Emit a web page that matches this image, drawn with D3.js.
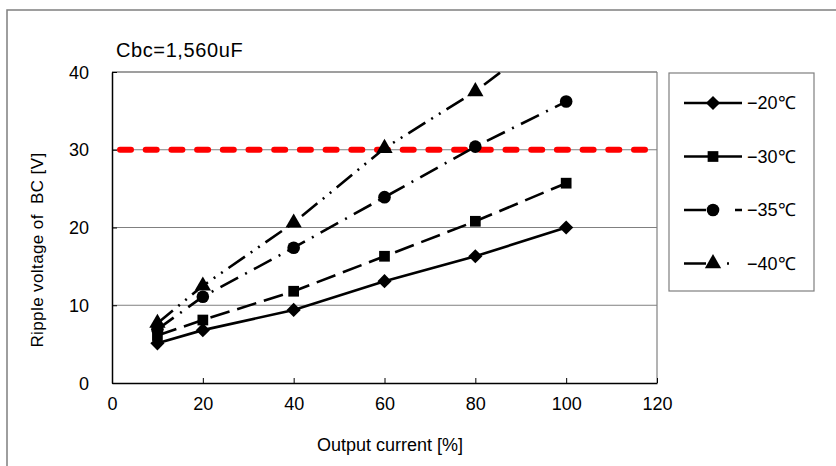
<!DOCTYPE html>
<html>
<head>
<meta charset="utf-8">
<script src="https://cdn.jsdelivr.net/npm/d3@7"></script>
<style>
  body { margin: 0; background: #fff; }
  text { font-family: "Liberation Sans", Arial, sans-serif; fill: #000; }
</style>
</head>
<body>
<svg id="chart" width="836" height="466"></svg>
<script>
// data
var xValues = [10, 20, 40, 60, 80, 100];
var v20 = [5.1, 6.8, 9.4, 13.1, 16.3, 20.0];
var v30 = [6.1, 8.1, 11.8, 16.3, 20.8, 25.7];
var v35 = [6.9, 11.1, 17.4, 23.9, 30.4, 36.2];
var v40 = [7.7, 12.5, 20.6, 30.2, 37.5, 46.4];
var seriesNames = ["\u221220\u2103", "\u221230\u2103", "\u221235\u2103", "\u221240\u2103"];
var limitValue = 30;
var xTicks = [0, 20, 40, 60, 80, 100, 120];
var yTicks = [0, 10, 20, 30, 40];

var svg = d3.select("#chart");

var x = d3.scaleLinear().domain([0, 120]).range([112, 657]);
var y = d3.scaleLinear().domain([0, 40]).range([383, 72]);

// outer chart frame
svg.append("rect")
  .attr("x", 7).attr("y", 10)
  .attr("width", 840).attr("height", 480)
  .attr("fill", "none").attr("stroke", "#7f7f7f").attr("stroke-width", 1.5);

// gridlines
svg.append("g").selectAll("line")
  .data([10, 20, 30])
  .enter().append("line")
  .attr("x1", x(0)).attr("x2", x(120))
  .attr("y1", function(d) { return y(d); })
  .attr("y2", function(d) { return y(d); })
  .attr("stroke", "#808080").attr("stroke-width", 1);

// plot border top / right
svg.append("line").attr("x1", x(0)).attr("x2", x(120)).attr("y1", y(40)).attr("y2", y(40))
  .attr("stroke", "#404040").attr("stroke-width", 1.2);
svg.append("line").attr("x1", x(120)).attr("x2", x(120)).attr("y1", y(40)).attr("y2", y(0))
  .attr("stroke", "#808080").attr("stroke-width", 1.2);

// axes
var xAxis = d3.axisBottom(x).tickValues(xTicks).tickSizeInner(-5).tickSizeOuter(0).tickPadding(16);
var yAxis = d3.axisLeft(y).tickValues(yTicks).tickSizeInner(-5).tickSizeOuter(0).tickPadding(23);

var gx = svg.append("g").attr("transform", "translate(0," + y(0) + ")").call(xAxis);
var gy = svg.append("g").attr("transform", "translate(" + x(0) + ",0)").call(yAxis);
[gx, gy].forEach(function(g) {
  g.select(".domain").attr("stroke", "#000").attr("stroke-width", 1.5);
  g.selectAll(".tick line").attr("stroke", "#000");
  g.selectAll(".tick text").attr("font-size", 18).attr("font-family", "'Noto Sans CJK JP', sans-serif");
});
gy.selectAll(".tick text").attr("dy", "0.34em");
gx.selectAll(".tick text").attr("dy", "0.6em");

svg.append("clipPath").attr("id", "plotClip")
  .append("rect").attr("x", x(0)).attr("y", y(40))
  .attr("width", x(120) - x(0)).attr("height", y(0) - y(40));

// red limit line
svg.append("line")
  .attr("x1", x(0) + 8).attr("x2", x(120))
  .attr("y1", y(limitValue)).attr("y2", y(limitValue))
  .attr("stroke", "#ff0000").attr("stroke-width", 6)
  .attr("stroke-linecap", "round")
  .attr("stroke-dasharray", "11,14.7");

var dashes = [null, "20,8", "20,8,2,8", "20,7,2,7,2,7"];
var legendDashes = [null, null, "22,29,7", "22,21,2,40"];
var symbols = [
  d3.symbol().type(d3.symbolSquare).size(100),
  d3.symbol().type(d3.symbolSquare).size(115),
  d3.symbol().type(d3.symbolCircle).size(125),
  d3.symbol().type(d3.symbolTriangle).size(115)
];
var rotate = [45, 0, 0, 0];
var allSeries = [v20, v30, v35, v40];

var line = d3.line()
  .x(function(d) { return x(d[0]); })
  .y(function(d) { return y(d[1]); });

var plot = svg.append("g").attr("clip-path", "url(#plotClip)");

allSeries.forEach(function(vals, i) {
  var pts = xValues.map(function(xv, j) { return [xv, vals[j]]; });
  plot.append("path")
    .datum(pts)
    .attr("d", line)
    .attr("fill", "none")
    .attr("stroke", "#000")
    .attr("stroke-width", 2.6)
    .attr("stroke-dasharray", dashes[i]);
  plot.selectAll(".m" + i)
    .data(pts)
    .enter().append("path")
    .attr("class", "m" + i)
    .attr("d", symbols[i])
    .attr("transform", function(d) {
      return "translate(" + x(d[0]) + "," + y(d[1]) + ") rotate(" + rotate[i] + ")";
    })
    .attr("fill", "#000");
});

// title
svg.append("text")
  .attr("x", 116).attr("y", 57)
  .attr("font-size", 20)
  .attr("letter-spacing", 0.6)
  .text("Cbc=1,560uF");

// axis titles
svg.append("text")
  .attr("transform", "translate(43,250) rotate(-90)")
  .attr("text-anchor", "middle")
  .attr("font-size", 17)
  .attr("letter-spacing", 0.4)
  .text("Ripple voltage of \u00a0BC [V]");

svg.append("text")
  .attr("x", 390).attr("y", 451)
  .attr("text-anchor", "middle")
  .attr("font-size", 18)
  .attr("font-family", "'Noto Sans CJK JP', sans-serif")
  .text("Output current [%]");

// legend
var legend = svg.append("g");
legend.append("rect")
  .attr("x", 669).attr("y", 73).attr("width", 145).attr("height", 218)
  .attr("fill", "#fff").attr("stroke", "#7f7f7f").attr("stroke-width", 1.2);

seriesNames.forEach(function(name, i) {
  var ly = 103 + i * 53.5;
  legend.append("line")
    .attr("x1", 684).attr("x2", 742).attr("y1", ly).attr("y2", ly)
    .attr("stroke", "#000").attr("stroke-width", 2.6)
    .attr("stroke-dasharray", legendDashes[i]);
  legend.append("path")
    .attr("d", symbols[i])
    .attr("transform", "translate(713," + ly + ") rotate(" + rotate[i] + ")")
    .attr("fill", "#000");
  legend.append("text")
    .attr("x", 747).attr("y", ly).attr("dy", "0.36em")
    .attr("font-size", 18)
    .attr("font-family", "'Noto Sans CJK JP', sans-serif")
    .text(name);
});
</script>
</body>
</html>
